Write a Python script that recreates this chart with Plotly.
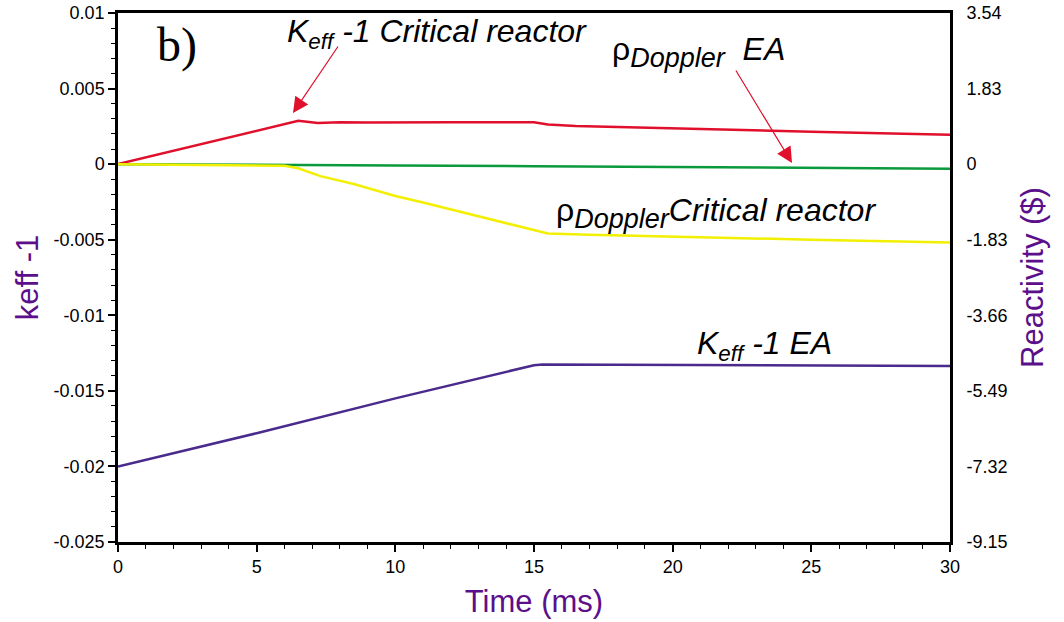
import plotly.graph_objects as go

# ---- data ----
time_red = [0, 6.5, 7.2, 8, 9, 10, 12, 15, 15.5, 16.5, 20, 25, 30]
keff_critical = [0, 0.00287, 0.00272, 0.00278, 0.00276, 0.00277, 0.00277, 0.00277, 0.00262, 0.00252, 0.00235, 0.00215, 0.00194]

time_purple = [0, 5, 10, 15, 15.3, 20, 25, 30]
keff_ea = [-0.02, -0.0178, -0.0155, -0.0133, -0.01325, -0.01328, -0.01332, -0.01336]

time_green = [0, 5, 10, 15, 20, 25, 30]
doppler_ea = [0, -0.01, -0.03, -0.05, -0.07, -0.09, -0.11]

time_yellow = [0, 5, 6, 6.5, 7.3, 8.5, 10, 11, 12, 13, 14, 15, 15.5, 17, 20, 25, 30]
doppler_critical = [0, -0.02, -0.04, -0.10, -0.29, -0.48, -0.77, -0.93, -1.10, -1.27, -1.44, -1.61, -1.68, -1.71, -1.76, -1.83, -1.90]

left_tick_vals = [0.01, 0.005, 0, -0.005, -0.01, -0.015, -0.02, -0.025]
left_tick_text = ["0.01", "0.005", "0", "-0.005", "-0.01", "-0.015", "-0.02", "-0.025"]
right_tick_vals = [3.66, 1.83, 0, -1.83, -3.66, -5.49, -7.32, -9.15]
right_tick_text = ["3.54", "1.83", "0", "-1.83", "-3.66", "-5.49", "-7.32", "-9.15"]
x_tick_vals = [0, 5, 10, 15, 20, 25, 30]

RED = "#e0102c"
GREEN = "#0a9a3c"
YELLOW = "#f2f000"
PURPLE_LINE = "#4a2a8c"
PURPLE_TXT = "#5c0f8b"

fig = go.Figure()
fig.add_trace(go.Scatter(x=time_red, y=keff_critical, mode="lines",
                         line=dict(color=RED, width=2.5), yaxis="y"))
fig.add_trace(go.Scatter(x=time_purple, y=keff_ea, mode="lines",
                         line=dict(color=PURPLE_LINE, width=2.5), yaxis="y"))
fig.add_trace(go.Scatter(x=time_green, y=doppler_ea, mode="lines",
                         line=dict(color=GREEN, width=2.5), yaxis="y2"))
fig.add_trace(go.Scatter(x=time_yellow, y=doppler_critical, mode="lines",
                         line=dict(color=YELLOW, width=2.5), yaxis="y2"))

L, R, T, B = 118, 950, 13, 542
W, H = 1064, 622


def px(xp):
    return (xp - L) / (R - L)


def py(yp):
    return (B - yp) / (B - T)


tick_font = dict(family="Liberation Sans, Arial", size=18, color="black")
title_font = dict(family="Liberation Sans, Arial", size=31, color=PURPLE_TXT)

fig.update_layout(
    width=W, height=H,
    margin=dict(l=L, r=W - R, t=T, b=H - B, autoexpand=False),
    paper_bgcolor="white", plot_bgcolor="white",
    showlegend=False,
    xaxis=dict(range=[0, 30], tickvals=x_tick_vals, ticks="outside", ticklen=7,
               tickwidth=1.5, tickcolor="black", showgrid=False, zeroline=False,
               showline=True, linewidth=2.5, linecolor="black", mirror=True,
               tickfont=tick_font, automargin=False,
               minor=dict(ticks="outside", ticklen=4, dtick=1, tickcolor="black", tickwidth=1.2, showgrid=False),
               title=dict(text="Time (ms)", font=title_font, standoff=14)),
    yaxis=dict(range=[-0.025, 0.01], tickvals=left_tick_vals, ticktext=left_tick_text,
               ticks="outside", ticklen=7, tickwidth=1.5, tickcolor="black",
               showgrid=False, zeroline=False, showline=True, linewidth=2.5,
               linecolor="black", mirror=True, tickfont=tick_font, automargin=False,
               minor=dict(ticks="outside", ticklen=4, dtick=0.001, tickcolor="black", tickwidth=1.2, showgrid=False),
               title=dict(text="keff -1", font=title_font, standoff=6)),
    yaxis2=dict(range=[-9.15, 3.66], overlaying="y", side="right",
                tickvals=right_tick_vals, ticktext=right_tick_text, ticks="outside",
                ticklen=12, tickcolor="rgba(0,0,0,0)", automargin=False,
                showgrid=False, zeroline=False, showline=False, tickfont=tick_font,
                title=dict(text="Reactivity ($)", font=title_font, standoff=14)),
)

txt_font = dict(family="Liberation Sans, Arial", size=32, color="black")
SUB = '<sub><span style="font-size:27px"><i>Doppler</i></span></sub>'

annotations = [
    dict(text="b)", x=px(155), y=py(45), xref="paper", yref="paper", xanchor="left", yanchor="middle",
         showarrow=False, font=dict(family="Liberation Serif, serif", size=48, color="black")),
    dict(text="<i>K<sub>eff</sub> -1 Critical reactor</i>", x=px(285), y=py(33), xref="paper", yref="paper",
         xanchor="left", yanchor="middle", showarrow=False, font=txt_font),
    dict(text="ρ" + SUB + "  <i>EA</i>", x=px(610), y=py(52), xref="paper", yref="paper",
         xanchor="left", yanchor="middle", showarrow=False, font=txt_font),
    dict(text="ρ" + SUB + "<i>Critical reactor</i>", x=px(554), y=py(213), xref="paper", yref="paper",
         xanchor="left", yanchor="middle", showarrow=False, font=txt_font),
    dict(text="<i>K<sub>eff</sub> -1 EA</i>", x=px(695), y=py(345), xref="paper", yref="paper",
         xanchor="left", yanchor="middle", showarrow=False, font=txt_font),
    # arrows
    dict(text="", x=px(293), y=py(113), xref="paper", yref="paper", ax=46, ay=-68,
         showarrow=True, arrowhead=2, arrowsize=2.6, arrowwidth=1.2, arrowcolor=RED),
    dict(text="", x=px(792), y=py(163), xref="paper", yref="paper", ax=-57, ay=-94,
         showarrow=True, arrowhead=2, arrowsize=2.6, arrowwidth=1.2, arrowcolor=RED),
]
fig.update_layout(annotations=annotations)

fig.write_html("out.html")
